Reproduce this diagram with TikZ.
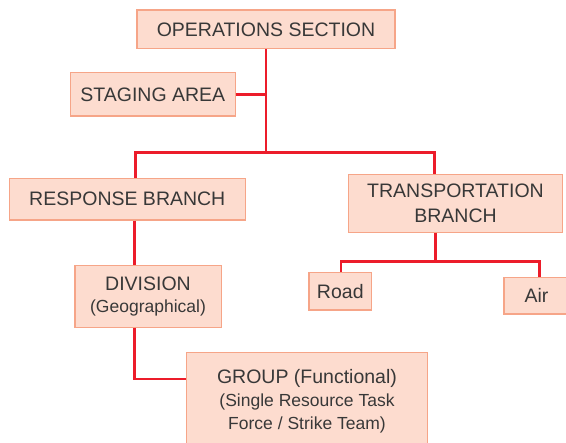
\documentclass[tikz,border=0pt]{standalone}
\usepackage{fontspec}
\setmainfont{Liberation Sans}
\definecolor{boxfill}{HTML}{FDDCCF}
\definecolor{boxline}{HTML}{F6A588}
\definecolor{linkred}{HTML}{EC1C2A}
\definecolor{txt}{HTML}{383838}
\begin{document}
\begin{tikzpicture}[x=1pt,y=-1pt,
  orgbox/.style={draw=boxline, line width=1.3pt, fill=boxfill, text=txt,
    inner sep=0pt, align=center, font=\fontsize{19.5}{25}\selectfont},
  link/.style={draw=linkred, line width=2.8pt}]
\useasboundingbox (0,0) rectangle (566,443);
\clip (0,0) rectangle (566,443);
% boxes
\node[orgbox, minimum width=258, minimum height=38.7] (ops) at (266,29.3) {OPERATIONS SECTION};
\node[orgbox, minimum width=165, minimum height=43.3] (stag) at (152.8,94.3) {STAGING AREA};
\node[orgbox, minimum width=236, minimum height=41.7] (resp) at (127.3,199.2) {RESPONSE BRANCH};
\node[orgbox, minimum width=214.4, minimum height=57.6] (trans) at (455.5,203.5) {TRANSPORTATION\\BRANCH};
\node[orgbox, minimum width=146.3, minimum height=62] (div) at (148,296.2)
  {DIVISION\\[-3pt]{\fontsize{17.5}{22}\selectfont (Geographical)}};
\node[orgbox, minimum width=62.7, minimum height=37.3] (road) at (340.3,291.3) {Road};
\node[orgbox, minimum width=65, minimum height=36.3] (air) at (536.5,295.8) {Air};
\node[orgbox, minimum width=240.6, minimum height=97.3] (grp) at (307,401.3)
  {GROUP (Functional)\\[-2pt]{\fontsize{17.5}{23}\selectfont (Single Resource Task}\\[-2pt]{\fontsize{17.5}{23}\selectfont Force / Strike Team)}};
% junction coordinates
\coordinate (top) at (266,152.7);
\coordinate (bl) at (135.5,152.7);
\coordinate (br) at (434.8,152.7);
\coordinate (dv) at (134.5,379);
\coordinate (tj) at (435.5,261.7);
\coordinate (tl) at (341,261.7);
\coordinate (tr) at (539.7,261.7);
% connectors
\draw[link] (ops.south) -- (top);
\draw[link] (stag.east) -- (stag.east -| top);
\draw[link] (resp.north -| bl) -- (bl) -- (br) -- (trans.north -| br);
\draw[link] (resp.south -| dv) -- (div.north -| dv);
\draw[link] (div.south -| dv) -- (dv) -- (grp.west |- dv);
\draw[link] (trans.south -| tj) -- (tj);
\draw[link] (road.north -| tl) -- (tl) -- (tr) -- (air.north -| tr);
\end{tikzpicture}
\end{document}
